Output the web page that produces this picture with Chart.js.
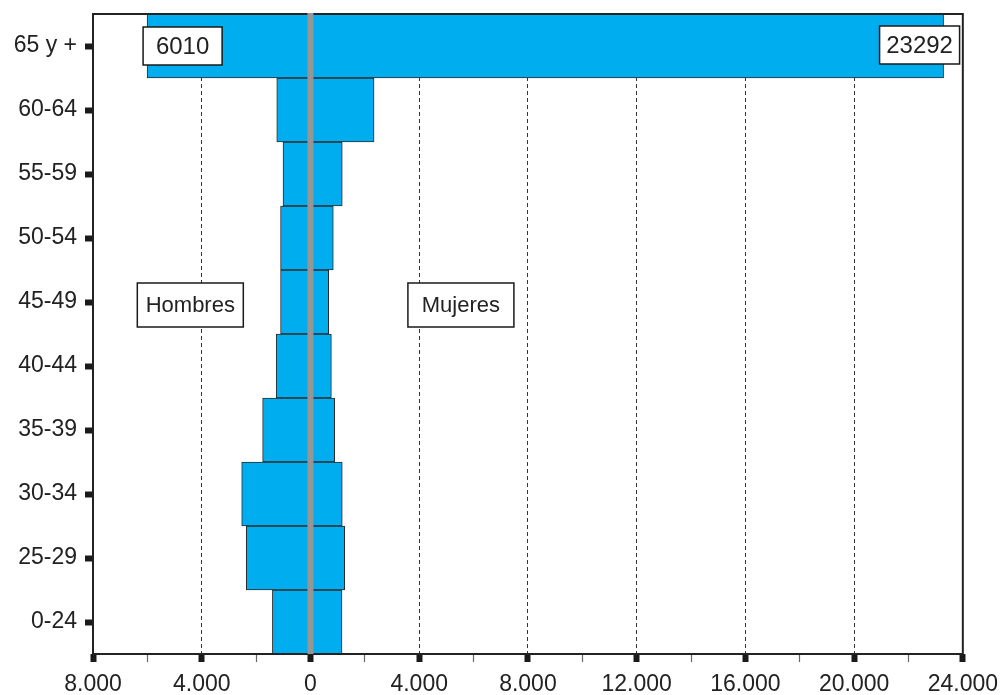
<!DOCTYPE html>
<html>
<head>
<meta charset="utf-8">
<script src="https://cdn.jsdelivr.net/npm/chart.js@4.4.1/dist/chart.umd.min.js"></script>
<style>
  html, body { margin: 0; padding: 0; background: #fff; }
</style>
</head>
<body>
<canvas id="piramide" width="1007" height="695"></canvas>
<script>
// grupos de edad, de arriba abajo
const grupos = ['65 y +', '60-64', '55-59', '50-54', '45-49', '40-44', '35-39', '30-34', '25-29', '0-24'];
const hombres = [6010, 1240, 1010, 1100, 1100, 1260, 1760, 2530, 2360, 1400];
const mujeres = [23292, 2340, 1170, 840, 670, 770, 890, 1170, 1260, 1160];
const ejeMin = -8000;
const ejeMax = 24000;
const paso = 4000;

const AZUL = '#00aeef';
const TEXTO = '#222';
Chart.defaults.font.family = "'Liberation Sans', Arial, sans-serif";
Chart.defaults.color = TEXTO;

const esMayor = v => v % paso === 0;

// 4000 -> "4.000"
function miles(v) {
  const s = String(Math.abs(v));
  return s.replace(/\B(?=(\d{3})+(?!\d))/g, '.');
}

function caja(ctx, texto, izq, cy, w, h, size) {
  ctx.font = size + "px 'Liberation Sans', Arial, sans-serif";
  ctx.fillStyle = '#fff';
  ctx.fillRect(izq, cy - h / 2, w, h);
  ctx.strokeStyle = '#1a1a1a';
  ctx.lineWidth = 1.5;
  ctx.strokeRect(izq, cy - h / 2, w, h);
  ctx.fillStyle = TEXTO;
  ctx.textAlign = 'center';
  ctx.textBaseline = 'middle';
  ctx.fillText(texto, izq + w / 2, cy + 1);
}

const extras = {
  id: 'extras',
  afterDatasetsDraw(chart) {
    const { ctx, chartArea: a, scales: { x, y } } = chart;
    ctx.save();

    // marco del área de dibujo
    ctx.strokeStyle = '#222';
    ctx.lineWidth = 2;
    ctx.strokeRect(a.left, a.top, a.right - a.left, a.bottom - a.top);

    // eje del cero
    const x0 = x.getPixelForValue(0);
    ctx.fillStyle = '#969696';
    ctx.fillRect(x0 - 3, a.top - 1, 6, a.bottom - a.top + 1);

    // totales de 65 y más
    const yTop = y.getPixelForValue(0);
    caja(ctx, String(hombres[0]), x.getPixelForValue(-hombres[0]) - 4, yTop, 79, 38, 24);
    caja(ctx, String(mujeres[0]), x.getPixelForValue(mujeres[0]) + 16 - 80, yTop - 1, 80, 38, 24);

    // rótulos de cada lado
    const yMed = y.getPixelForValue(4) + 3;
    caja(ctx, 'Hombres', x.getPixelForValue(-4420) - 53, yMed, 106, 44, 22);
    caja(ctx, 'Mujeres', x.getPixelForValue(5535) - 53, yMed, 106, 44, 22);

    ctx.restore();
  }
};

const ctx = document.getElementById('piramide').getContext('2d');
new Chart(ctx, {
  type: 'bar',
  data: {
    labels: grupos,
    datasets: [
      {
        label: 'Hombres',
        data: hombres.map(v => -v),
        backgroundColor: AZUL,
        borderColor: '#2a2a2a',
        borderWidth: 1,
        borderSkipped: false
      },
      {
        label: 'Mujeres',
        data: mujeres,
        backgroundColor: AZUL,
        borderColor: '#2a2a2a',
        borderWidth: 1,
        borderSkipped: false
      }
    ]
  },
  options: {
    indexAxis: 'y',
    responsive: false,
    animation: false,
    barPercentage: 1,
    categoryPercentage: 1,
    layout: { padding: { top: 14, right: 42, left: 0, bottom: 0 } },
    plugins: {
      legend: { display: false },
      tooltip: { enabled: false }
    },
    scales: {
      x: {
        stacked: true,
        min: ejeMin,
        max: ejeMax,
        afterFit(scale) { scale.height = 41; },
        ticks: {
          stepSize: 2000,
          autoSkip: false,
          maxRotation: 0,
          padding: 9,
          font: { size: 23 },
          color: TEXTO,
          callback: v => esMayor(v) ? miles(v) : ''
        },
        border: { display: false, dash: [4, 3] },
        grid: {
          tickLength: 8,
          color: c => {
            const v = c.tick ? c.tick.value : null;
            return (v !== null && esMayor(v) && v !== 0 && v !== ejeMin && v !== ejeMax) ? '#333' : 'rgba(0,0,0,0)';
          },
          lineWidth: 1,
          tickColor: c => esMayor(c.tick.value) ? '#1a1a1a' : '#666',
          tickWidth: c => esMayor(c.tick.value) ? 6 : 1.2
        }
      },
      y: {
        stacked: true,
        afterFit(scale) {
          scale.width = 93;
          scale.paddingTop = 0;
          scale.paddingBottom = 0;
        },
        ticks: {
          padding: 8,
          font: { size: 23 },
          color: TEXTO
        },
        border: { display: false },
        grid: {
          offset: false,
          drawOnChartArea: false,
          tickLength: 8,
          tickWidth: 6,
          tickColor: '#1a1a1a'
        }
      }
    }
  },
  plugins: [extras]
});
</script>
</body>
</html>
